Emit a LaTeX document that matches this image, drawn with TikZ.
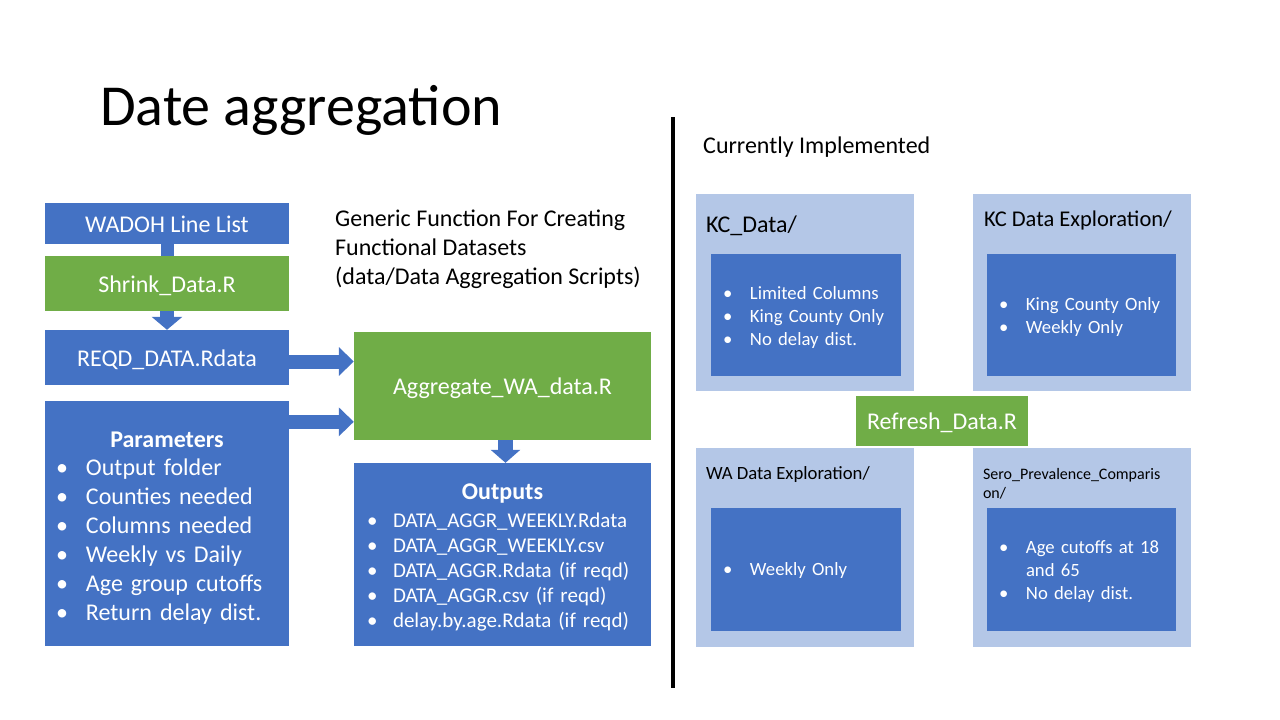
\documentclass[tikz,border=0pt]{standalone}
\usepackage{fontspec}
\setmainfont{Carlito}
\usetikzlibrary{calc,positioning,arrows.meta}
\definecolor{boxblue}{HTML}{4472C4}
\definecolor{boxgreen}{HTML}{70AD47}
\definecolor{boxpale}{HTML}{B4C7E7}
\def\fsz#1#2{\fontsize{#1}{#2}\selectfont}
\def\bul#1{\makebox[#1][l]{\textbullet}}
\def\topgap#1{\rule{0pt}{#1}}
\tikzset{
	bluebox/.style={fill=boxblue, text=white, inner sep=0pt},
	greenbox/.style={fill=boxgreen, text=white, inner sep=0pt},
	palebox/.style={fill=boxpale, inner sep=0pt},
	oneline/.style={text height=17pt, text depth=0pt},
	listbox/.style={bluebox, align=left},
	dirname/.style={anchor=base west, inner sep=0pt, text=black},
	bigarrow/.style={draw=boxblue, line width=14pt, -{Triangle[width=28pt,length=15pt]}},
	downarrow/.style={draw=boxblue, line width=14pt, -{Triangle[width=30pt,length=13pt]}}
}

\begin{document}
\begin{tikzpicture}[x=1pt, y=-1pt]
		%%%%% START %%%%%
		\useasboundingbox (0,0) rectangle (1280,720);
		
		\node[anchor=base west, inner sep=0pt, font=\fsz{58}{68}] (title) at (100,125) {Date aggregation};
		
		% left column
		\node[bluebox, oneline, minimum width=244pt, minimum height=41pt, font=\fsz{24}{29}] (wadoh) at (167,223.5) {WADOH Line List};
		\node[greenbox, oneline, minimum width=244pt, minimum height=55pt, font=\fsz{24}{29}] (shrink) at (167,283.5) {Shrink\_Data.R};
		\node[bluebox, oneline, minimum width=244pt, minimum height=55pt, font=\fsz{24}{29}] (reqd) at (167,357.5) {REQD\_DATA.Rdata};
		\node[listbox, minimum width=244pt, minimum height=245pt, inner xsep=11pt, text width=222pt, font=\fsz{24}{29}] (params) at (167,523.5)
			{{\centering\topgap{24pt}\textbf{Parameters}\par}
			\vspace{-1pt}
			\bul{30pt}Output folder\\
			\bul{30pt}Counties needed\\
			\bul{30pt}Columns needed\\
			\bul{30pt}Weekly vs Daily\\
			\bul{30pt}Age group cutoffs\\
			\bul{30pt}Return delay dist.};
		
		\draw[boxblue, line width=13pt] (wadoh.south) -- (shrink.north);
		\draw[downarrow] (shrink.south) -- (reqd.north);
		
		% aggregation
		\node[anchor=north west, inner sep=0pt, align=left, font=\fsz{24}{29}] (generic) at (335,210)
			{Generic Function For Creating\\Functional Datasets\\(data/Data Aggregation Scripts)};
		\node[greenbox, oneline, minimum width=297pt, minimum height=108pt, font=\fsz{24}{29}] (agg) at (502.5,386) {Aggregate\_WA\_data.R};
		\node[listbox, minimum width=297pt, minimum height=183pt, inner xsep=13pt, text width=271pt, font=\fsz{21}{25}] (outputs) at (502.5,554.5)
			{{\centering\fsz{24}{28}\topgap{21pt}\textbf{Outputs}\par}
			\vspace{3pt}
			\bul{26pt}DATA\_AGGR\_WEEKLY.Rdata\\
			\bul{26pt}DATA\_AGGR\_WEEKLY.csv\\
			\bul{26pt}DATA\_AGGR.Rdata\hspace{7pt}(if reqd)\\
			\bul{26pt}DATA\_AGGR.csv\hspace{7pt}(if reqd)\\
			\bul{26pt}delay.by.age.Rdata (if reqd)};
		
		\draw[bigarrow] ($(reqd.east)+(0,4)$) -- ($(reqd.east -| agg.west)+(0,4)$);
		\draw[bigarrow] ($(params.north east)+(0,21)$) -- ($(params.north east -| agg.west)+(0,21)$);
		\draw[downarrow, line width=15pt, -{Triangle[width=29pt,length=13pt]}] ($(agg.south)+(3,0)$) -- ($(outputs.north)+(3,0)$);
		
		% divider
		\draw[line width=4pt] (673,117) -- (673,688);
		
		% right side
		\node[anchor=base west, inner sep=0pt, font=\fsz{24}{29}] (current) at (703,153) {Currently Implemented};
		
		\node[palebox, minimum width=218pt, minimum height=197pt] (kcdata) at (805,292.5) {};
		\node[palebox, minimum width=218pt, minimum height=197pt] (kcexp) at (1082,292.5) {};
		\node[palebox, minimum width=218pt, minimum height=199pt] (waexp) at (805,547.5) {};
		\node[palebox, minimum width=218pt, minimum height=199pt] (sero) at (1082,547.5) {};
		
		\node[dirname, font=\fsz{24}{29}] (kcdatatitle) at ($(kcdata.north west)+(10,39)$) {KC\_Data/};
		\node[dirname, font=\fsz{22.5}{26}] (kcexptitle) at ($(kcexp.north west)+(11,33)$) {KC Data Exploration/};
		\node[dirname, font=\fsz{18.7}{22}] (waexptitle) at ($(waexp.north west)+(10,32)$) {WA Data Exploration/};
		\node[anchor=north west, inner sep=0pt, align=left, font=\fsz{16}{19}] (serotitle) at ($(sero.north west)+(10,20)$)
			{Sero\_Prevalence\_Comparis\\on/};
		
		\node[listbox, minimum width=190pt, minimum height=122pt, inner xsep=12pt, text width=166pt, font=\fsz{18.7}{23}] (kcdatalist) at (806,315)
			{\topgap{19pt}\bul{27pt}Limited Columns\\
			\bul{27pt}King County Only\\
			\bul{27pt}No delay dist.};
		\node[listbox, minimum width=189pt, minimum height=122pt, inner xsep=12pt, text width=165pt, font=\fsz{18.7}{23}] (kcexplist) at (1081.5,315)
			{\topgap{18pt}\bul{27pt}King County Only\\
			\bul{27pt}Weekly Only};
		\node[listbox, minimum width=190pt, minimum height=123pt, inner xsep=12pt, text width=166pt, font=\fsz{18.7}{23}] (waexplist) at (806,569.5)
			{\topgap{16pt}\bul{27pt}Weekly Only};
		\node[listbox, minimum width=189pt, minimum height=123pt, inner xsep=12pt, text width=165pt, font=\fsz{18.7}{23}] (serolist) at (1081.5,569.5)
			{\topgap{18pt}\bul{27pt}Age cutoffs at 18\\
			\hspace*{27pt}and 65\\
			\bul{27pt}No delay dist.};
		
		\node[greenbox, oneline, minimum width=172pt, minimum height=50pt, font=\fsz{24}{29}] (refresh) at (942,421) {Refresh\_Data.R};
		
		%%%%% END %%%%%
\end{tikzpicture}
\end{document}
